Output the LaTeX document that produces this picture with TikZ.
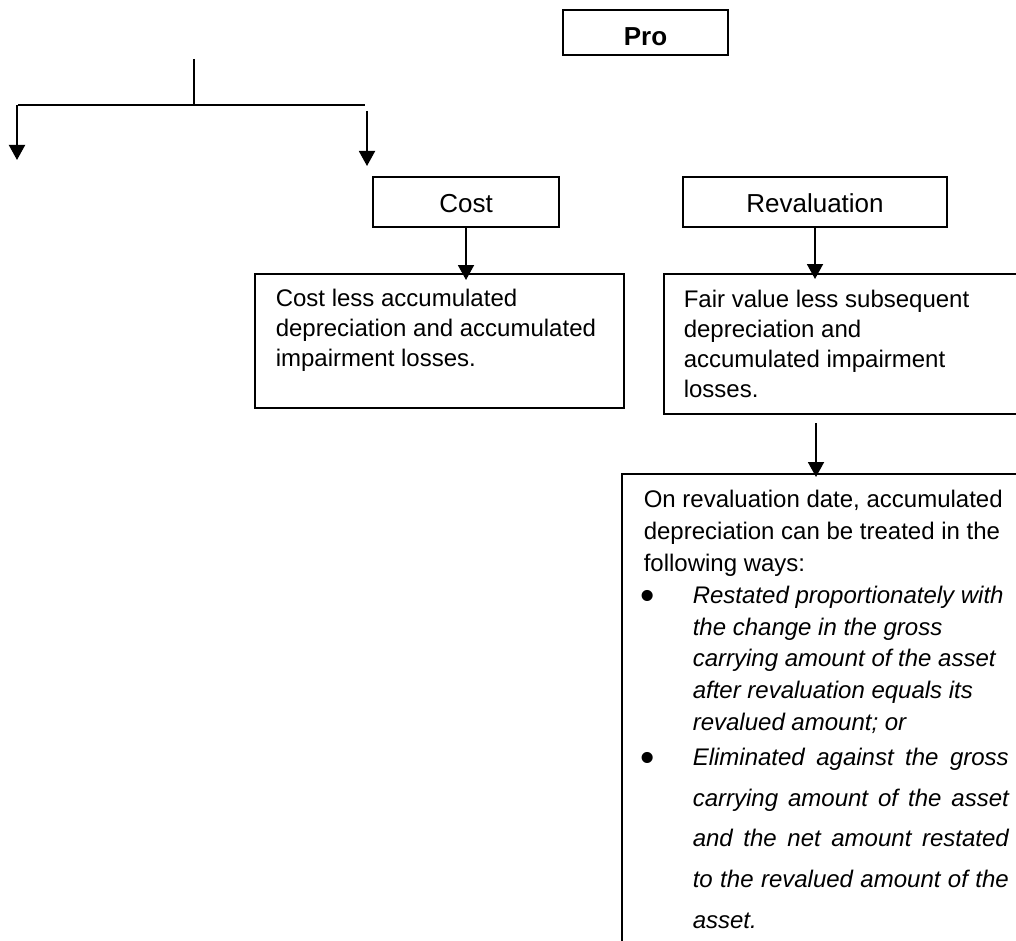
\documentclass[tikz,border=0pt]{standalone}
\usepackage{fontspec}
\usepackage{graphicx}
\setmainfont{Liberation Sans}
\usetikzlibrary{arrows.meta}
\newcommand\bodyfont{\fontsize{24pt}{30pt}\selectfont}
\newcommand\labfont{\fontsize{26pt}{30pt}\selectfont}
\newcommand\bulmark{\makebox[49pt][l]{\hskip-3pt\raisebox{-6pt}{\scalebox{1.7}{•}}}}
\newcommand\jline[1]{\makebox[316pt][s]{#1}}
\begin{document}
\begin{tikzpicture}[x=1pt,y=-1pt,
  box/.style={draw, line width=1.6pt, inner sep=0pt, rectangle},
  labelbox/.style={box, font=\labfont, text height=36pt, text depth=14pt},
  arr/.style={line width=1.9pt, -{Triangle[width=16pt,length=15pt]}},
  conn/.style={line width=1.8pt}]
\useasboundingbox (0,0) rectangle (1016,941);
\clip (0,0) rectangle (1016,941);
% boxes
\node[box, font=\labfont\bfseries, minimum width=165pt, text height=36pt, text depth=9pt, anchor=north] (pro) at (645.5,9) {Pro};
\node[labelbox, minimum width=186pt, anchor=north] (cost) at (466,176) {Cost};
\node[labelbox, minimum width=264pt, anchor=north] (reval) at (815,176) {Revaluation};
\node[box, anchor=north west, font=\bodyfont, text height=33pt, text depth=101pt] (cl) at (254,273) {\hbox to 369pt{\hskip21pt\vtop{\baselineskip=30pt
  \hbox{Cost less accumulated}
  \hbox{depreciation and accumulated}
  \hbox{impairment losses.}}\hss}};
\node[box, anchor=north west, font=\bodyfont, text height=34pt, text depth=106pt] (fv) at (663,273) {\hbox to 420pt{\hskip20pt\vtop{\baselineskip=30pt
  \hbox{Fair value less subsequent}
  \hbox{depreciation and}
  \hbox{accumulated impairment}
  \hbox{losses.}}\hss}};
\node[box, anchor=north west, font=\bodyfont, text height=34pt, text depth=600pt] (big) at (621,473) {\hbox to 450pt{\hskip22pt\vtop{\baselineskip=31.8pt
  \hbox{On revaluation date, accumulated}
  \hbox{depreciation can be treated in the}
  \hbox{following ways:}
  \hbox{\bulmark\itshape Restated proportionately with}
  \hbox{\hskip49pt\itshape the change in the gross}
  \hbox{\hskip49pt\itshape carrying amount of the asset}
  \hbox{\hskip49pt\itshape after revaluation equals its}
  \hbox{\hskip49pt\itshape revalued amount; or}
  \baselineskip=35pt
  \hbox{\bulmark\itshape\jline{Eliminated against the gross}}
  \baselineskip=40.75pt
  \hbox{\hskip49pt\itshape\jline{carrying amount of the asset}}
  \hbox{\hskip49pt\itshape\jline{and the net amount restated}}
  \hbox{\hskip49pt\itshape\jline{to the revalued amount of the}}
  \hbox{\hskip49pt\itshape asset.}}\hss}};
% top-left branching lines
\coordinate (t0) at (194,59);
\coordinate (hl) at (18,105);
\coordinate (hr) at (365,105);
\coordinate (la0) at (17,105);
\coordinate (la1) at (17,160);
\coordinate (ra0) at (367,111);
\coordinate (ra1) at (367,166);
\draw[conn] (t0) -- (t0 |- hl);
\draw[conn] (hl) -- (hr);
\draw[arr] (la0) -- (la1);
\draw[arr] (ra0) -- (ra1);
% connectors
\path (cost.south |- cl.north) ++(0,7) coordinate (clin);
\draw[arr] (cost.south) -- (clin);
\path (reval.south |- fv.north) ++(0,6) coordinate (fvin);
\draw[arr] (reval.south) -- (fvin);
\coordinate (fvout) at (816,423);
\path (fvout |- big.north) ++(0,4) coordinate (bigin);
\draw[arr] (fvout) -- (bigin);
\end{tikzpicture}
\end{document}
